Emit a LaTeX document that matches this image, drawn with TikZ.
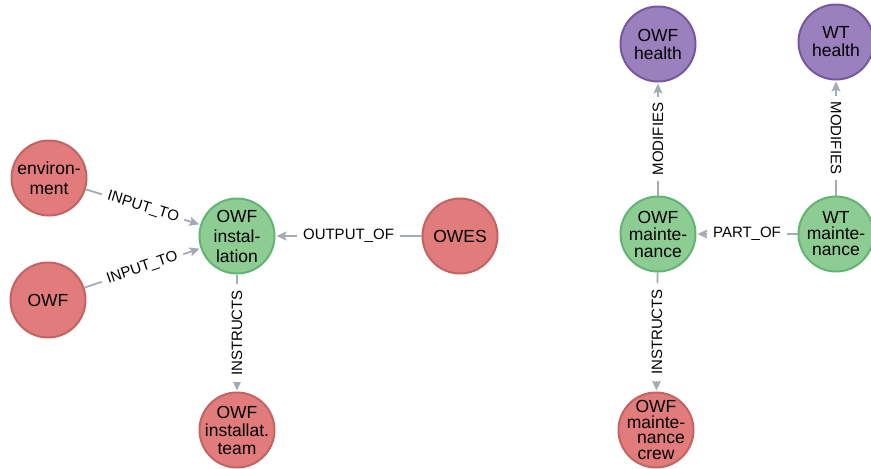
\documentclass[tikz,border=0pt]{standalone}
\usepackage{fontspec}
\setmainfont{Liberation Sans}
\usetikzlibrary{arrows.meta}

\definecolor{redfill}{HTML}{E27B7B}
\definecolor{redline}{HTML}{C26464}
\definecolor{greenfill}{HTML}{8DCC93}
\definecolor{greenline}{HTML}{63B374}
\definecolor{purplefill}{HTML}{9B80BE}
\definecolor{purpleline}{HTML}{7458A0}
\definecolor{linkgray}{HTML}{A5ABB6}

\begin{document}
\begin{tikzpicture}[x = 1pt, y = -1pt,
    entity/.style = {circle, draw = redline, fill = redfill, line width = 2pt, minimum size = 75pt, inner sep = -8pt, align = center, font = \fontsize{17.5}{18}\selectfont},
    activity/.style = {entity, draw = greenline, fill = greenfill},
    condition/.style = {entity, draw = purpleline, fill = purplefill},
    link/.style = {draw = linkgray, line width = 1.8pt, -{Stealth[length = 10pt, width = 9pt, inset = 2pt]}, shorten > = 1pt},
    rel/.style = {fill = white, inner xsep = 6pt, inner ysep = 3pt, font = \fontsize{15}{15}\selectfont, text = black}]
    \useasboundingbox (0, 0) rectangle (871, 469);

    % left cluster
    \node[entity, font = \fontsize{17.5}{20}\selectfont] (env) at (49, 178) {environ-\\ment};
    \node[entity] (owf) at (48, 300) {OWF};
    \node[activity, font = \fontsize{17.5}{20}\selectfont] (inst) at (237, 236) {OWF\\instal-\\lation};
    \node[entity] (owes) at (460, 236) {OWES};
    \node[entity, inner sep = -10pt] (team) at (237, 430) {OWF\\installat.\\team};

    \draw[link] (env) -- node[rel, sloped]{INPUT\_TO} (inst);
    \draw[link] (owf) -- node[rel, sloped]{INPUT\_TO} (inst);
    \draw[link] (owes) -- node[rel]{OUTPUT\_OF} (inst);
    \draw[link] (inst) -- node[rel, rotate = 90]{INSTRUCTS} (team);

    % right cluster
    \node[condition] (owfhealth) at (658, 44) {OWF\\health};
    \node[condition] (wthealth) at (836, 42) {WT\\health};
    \node[activity, font = \fontsize{17.5}{17}\selectfont] (owfmaint) at (658, 234) {OWF\\mainte-\\nance};
    \node[activity, font = \fontsize{17.5}{16}\selectfont] (wtmaint) at (836, 234) {WT\\mainte-\\nance};
    \node[entity, inner sep = -14pt, font = \fontsize{17.5}{15.5}\selectfont] (crew) at (656, 430) {OWF\\mainte-\\\hspace{10pt}nance\\crew};

    \draw[link] (owfmaint) -- node[rel, rotate = 90]{MODIFIES} (owfhealth);
    \draw[link] (wtmaint) -- node[rel, rotate = -90]{MODIFIES} (wthealth);
    \draw[link] (wtmaint) -- node[rel]{PART\_OF} (owfmaint);
    \draw[link] (owfmaint) -- node[rel, rotate = 90]{INSTRUCTS} (crew);
\end{tikzpicture}
\end{document}
